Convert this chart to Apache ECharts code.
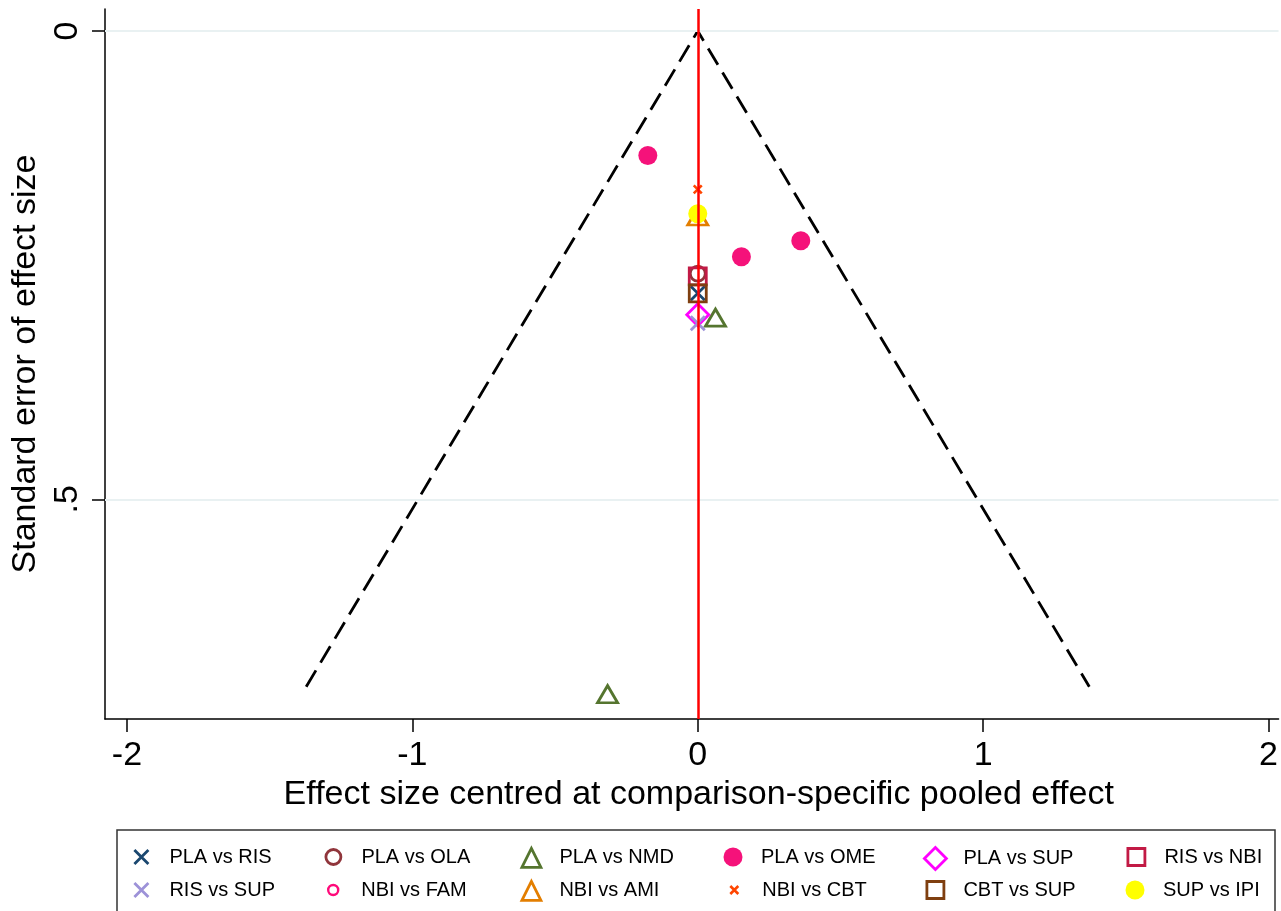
<!DOCTYPE html>
<html>
<head>
<meta charset="utf-8">
<title>Comparison-adjusted funnel plot</title>
<script src="https://cdn.jsdelivr.net/npm/echarts@6/dist/echarts.min.js"></script>
<style>
  html, body { margin: 0; padding: 0; background: #fff; }
  #chart { width: 1281px; height: 911px; }
</style>
</head>
<body>
<div id="chart"></div>
<script>
// 数据：从图上读取
var comparisons = ['PLA vs RIS', 'PLA vs OLA', 'PLA vs NMD', 'PLA vs OME', 'PLA vs SUP', 'RIS vs NBI',
    'RIS vs SUP', 'NBI vs FAM', 'NBI vs AMI', 'NBI vs CBT', 'CBT vs SUP', 'SUP vs IPI'];

// [效应量, 标准误]
var plaRis = [[0, 0.280]];
var plaOla = [[0, 0.259]];
var plaNmd = [[0.062, 0.306], [-0.316, 0.708]];
var plaOme = [[-0.175, 0.133], [0.153, 0.241], [0.361, 0.224]];
var plaSup = [[0, 0.303]];
var risNbi = [[0, 0.262]];
var risSup = [[0, 0.312]];
var nbiFam = [[0, 0.195]];
var nbiAmi = [[0, 0.198]];
var nbiCbt = [[0, 0.169]];
var cbtSup = [[0, 0.280]];
var supIpi = [[0, 0.195]];

// 伪 95% 置信区间漏斗
var funnelLine = [[-1.372, 0.700], [0, 0], [1.372, 0.700]];

var xTicks = [-2, -1, 0, 1, 2];
var yTicks = [0, 0.5];
var yTickLabels = ['0', '.5'];

var FONT = '"Liberation Sans", Arial, Helvetica, sans-serif';
var CROSS = 'path://M0,0L10,10M10,0L0,10';
var HOLLOW = 'rgba(255,255,255,0)';

// 每个比较的标记样式
var markers = [
    { data: plaRis, symbol: CROSS, size: 14, color: '#1a476f', hollow: false, bw: 2.8 },
    { data: plaOla, symbol: 'circle', size: 15, color: '#90353b', hollow: true, bw: 2.8 },
    { data: plaNmd, symbol: 'triangle', size: [20, 17], lsize: 19, color: '#55752f', hollow: true, bw: 2.8 },
    { data: plaOme, symbol: 'circle', size: 19, color: '#f5127a', hollow: false, bw: 0 },
    { data: plaSup, symbol: 'diamond', size: 22, color: '#ff00ff', hollow: true, bw: 2.8 },
    { data: risNbi, symbol: 'rect', size: 17, color: '#c21a45', hollow: true, bw: 2.8 },
    { data: risSup, symbol: CROSS, size: 14, color: '#9d92d8', hollow: false, bw: 2.8 },
    { data: nbiFam, symbol: 'circle', size: 10, color: '#ff0a7a', hollow: true, bw: 2.4 },
    { data: nbiAmi, symbol: 'triangle', size: [20, 17], lsize: 19, color: '#e37e00', hollow: true, bw: 2.8 },
    { data: nbiCbt, symbol: CROSS, size: 8, color: '#ff4500', hollow: false, bw: 2.6 },
    { data: cbtSup, symbol: 'rect', size: 17, color: '#7f3f10', hollow: true, bw: 2.8 },
    { data: supIpi, symbol: 'circle', size: 19, color: '#ffff00', hollow: false, bw: 0 }
];

// 图例位置
var legendCols = [140, 332, 530, 733, 934, 1135];
var legendRows = [857, 890];

var series = [{
    type: 'line',
    data: funnelLine,
    symbol: 'none',
    silent: true,
    lineStyle: { color: '#000', width: 2.8, type: [19, 9] },
    markLine: {
        silent: true,
        symbol: 'none',
        label: { show: false },
        data: [
            { yAxis: 0, lineStyle: { color: '#e9f1f2', width: 2, type: 'solid' } },
            { yAxis: 0.5, lineStyle: { color: '#e9f1f2', width: 2, type: 'solid' } },
            { xAxis: 0, lineStyle: { color: '#ff0000', width: 2.5, type: 'solid' } }
        ]
    }
}];

var legends = [];

for (var i = 0; i < comparisons.length; i++) {
    var m = markers[i];
    series.push({
        name: comparisons[i],
        type: 'scatter',
        data: m.data,
        symbol: m.symbol,
        symbolSize: m.size,
        itemStyle: {
            color: m.hollow ? HOLLOW : m.color,
            borderColor: m.color,
            borderWidth: m.bw,
            opacity: 1
        }
    });
    var h = m.lsize || m.size;
    var boxH = Math.max(h, 20);
    legends.push({
        data: [comparisons[i]],
        left: legendCols[i % 6] - h / 2,
        top: legendRows[Math.floor(i / 6)] - boxH / 2,
        orient: 'horizontal',
        padding: 0,
        itemGap: 0,
        itemWidth: h,
        itemHeight: h,
        selectedMode: false,
        itemStyle: { borderWidth: m.bw },
        textStyle: {
            fontSize: 20, color: '#000', fontFamily: FONT,
            padding: [0, 0, 0, 23 - h / 2]
        }
    });
}

var option = {
    animation: false,
    backgroundColor: '#fff',
    textStyle: { fontFamily: FONT },
    grid: { left: 105, top: 9, right: 0, bottom: 192, containLabel: false },
    xAxis: {
        type: 'value',
        min: -2.077,
        max: 2.035,
        name: 'Effect size centred at comparison-specific pooled effect',
        nameLocation: 'middle',
        nameGap: 55,
        nameTextStyle: { fontSize: 34, color: '#000', fontFamily: FONT, padding: [0, 0, 0, 14] },
        axisLine: { show: true, onZero: false, lineStyle: { color: '#000', width: 1.5 } },
        axisTick: { show: true, length: 13, customValues: xTicks, lineStyle: { color: '#000', width: 1.5 } },
        axisLabel: { fontSize: 34, color: '#000', margin: 20, fontFamily: FONT, customValues: xTicks },
        splitLine: { show: false }
    },
    yAxis: {
        type: 'value',
        inverse: true,
        min: -0.0235,
        max: 0.7345,
        name: 'Standard error of effect size',
        nameLocation: 'middle',
        nameRotate: 90,
        nameGap: 47,
        nameTextStyle: { fontSize: 34, color: '#000', fontFamily: FONT },
        axisLine: { show: true, onZero: false, lineStyle: { color: '#000', width: 1.5 } },
        axisTick: { show: true, length: 13, customValues: yTicks, lineStyle: { color: '#000', width: 1.5 } },
        axisLabel: {
            fontSize: 34, color: '#000', margin: 20, rotate: 90, fontFamily: FONT,
            customValues: yTicks,
            formatter: function (v) {
                var k = yTicks.indexOf(v);
                return k >= 0 ? yTickLabels[k] : '';
            }
        },
        splitLine: { show: false }
    },
    graphic: [{
        type: 'rect',
        z: -1,
        shape: { x: 117, y: 830, width: 1158, height: 100 },
        style: { fill: '#fff', stroke: '#333', lineWidth: 1.5 }
    }],
    legend: legends,
    series: series
};

var myChart = echarts.init(document.getElementById('chart'));
myChart.setOption(option);
</script>
</body>
</html>
